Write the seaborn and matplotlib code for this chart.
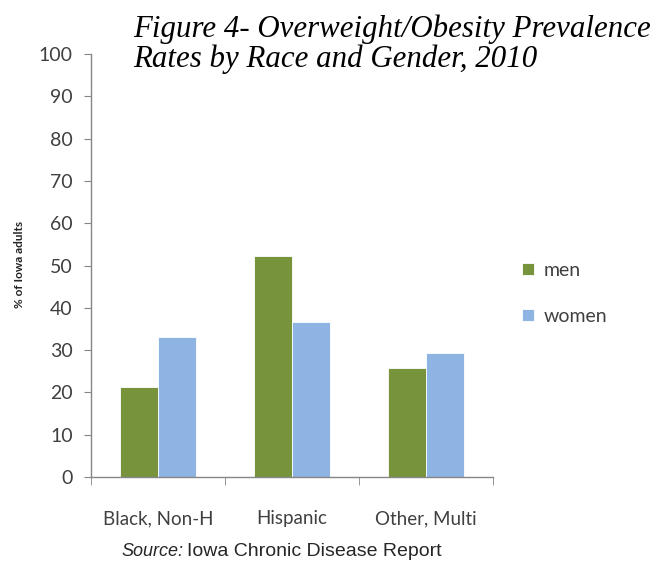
import matplotlib
matplotlib.use("Agg")
import matplotlib.pyplot as plt
import seaborn as sns
import pandas as pd

groups = ["Black, Non-H", "Hispanic", "Other, Multi"]
men = [21.4, 52.3, 25.8]
women = [33.0, 36.7, 29.4]
series = ["men", "women"]
colors = ["#77933C", "#8EB4E3"]

df = pd.DataFrame({
    "group": groups * 2,
    "sex": ["men"] * 3 + ["women"] * 3,
    "value": men + women,
})

sns.set_style("white")
plt.rcParams["font.family"] = ["Lato", "DejaVu Sans"]

fig = plt.figure(figsize=(6.59, 5.63), dpi=100)
ax = fig.add_axes([0.138, 0.1527, 0.610, 0.7513])

sns.barplot(data=df, x="group", y="value", hue="sex", hue_order=series,
            palette=colors, width=0.57, saturation=1, ax=ax,
            edgecolor="white", linewidth=0.6)

ax.set_ylim(0, 100)
ax.set_xlim(-0.5, 2.5)
ax.set_yticks(range(0, 101, 10))
axis_col = "#868686"
text_col = "#404040"
for s in ["top", "right"]:
    ax.spines[s].set_visible(False)
for s in ["left", "bottom"]:
    ax.spines[s].set_color(axis_col)
    ax.spines[s].set_linewidth(1.0)

ax.tick_params(axis="y", length=5, color=axis_col, labelsize=14,
               labelcolor=text_col, pad=8, left=True)
ax.set_xticks([0, 1, 2])
ax.set_xticklabels(groups)
ax.tick_params(axis="x", which="major", length=0, labelsize=13.5,
               labelcolor=text_col, pad=24)
ax.set_xticks([-0.5, 0.5, 1.5, 2.5], minor=True)
ax.tick_params(axis="x", which="minor", length=6, color=axis_col, bottom=True)

ax.set_xlabel("")
ax.set_ylabel("")
fig.text(0.029, 0.53, "% of Iowa adults", rotation=90, ha="center",
         va="center", fontsize=8.5, fontweight="bold", color="#222222")

leg = ax.legend(loc="center left", bbox_to_anchor=(1.03, 0.434), frameon=False,
                fontsize=14, handlelength=0.6, handleheight=0.6,
                labelspacing=1.5, handletextpad=0.5)
for t in leg.get_texts():
    t.set_color(text_col)

fig.text(0.202, 0.948, "Figure 4- Overweight/Obesity Prevalence",
         family="Liberation Serif", style="italic", fontsize=22.2,
         ha="left", va="center", color="black")
fig.text(0.202, 0.895, "Rates by Race and Gender, 2010",
         family="Liberation Serif", style="italic", fontsize=22.2,
         ha="left", va="center", color="black")

fig.text(0.184, 0.021, "Source:", family="Liberation Sans", style="italic",
         fontsize=13, ha="left", va="center")
fig.text(0.284, 0.021, "Iowa Chronic Disease Report", family="Liberation Sans",
         fontsize=14, ha="left", va="center")

fig.savefig("out.png", dpi=100)
